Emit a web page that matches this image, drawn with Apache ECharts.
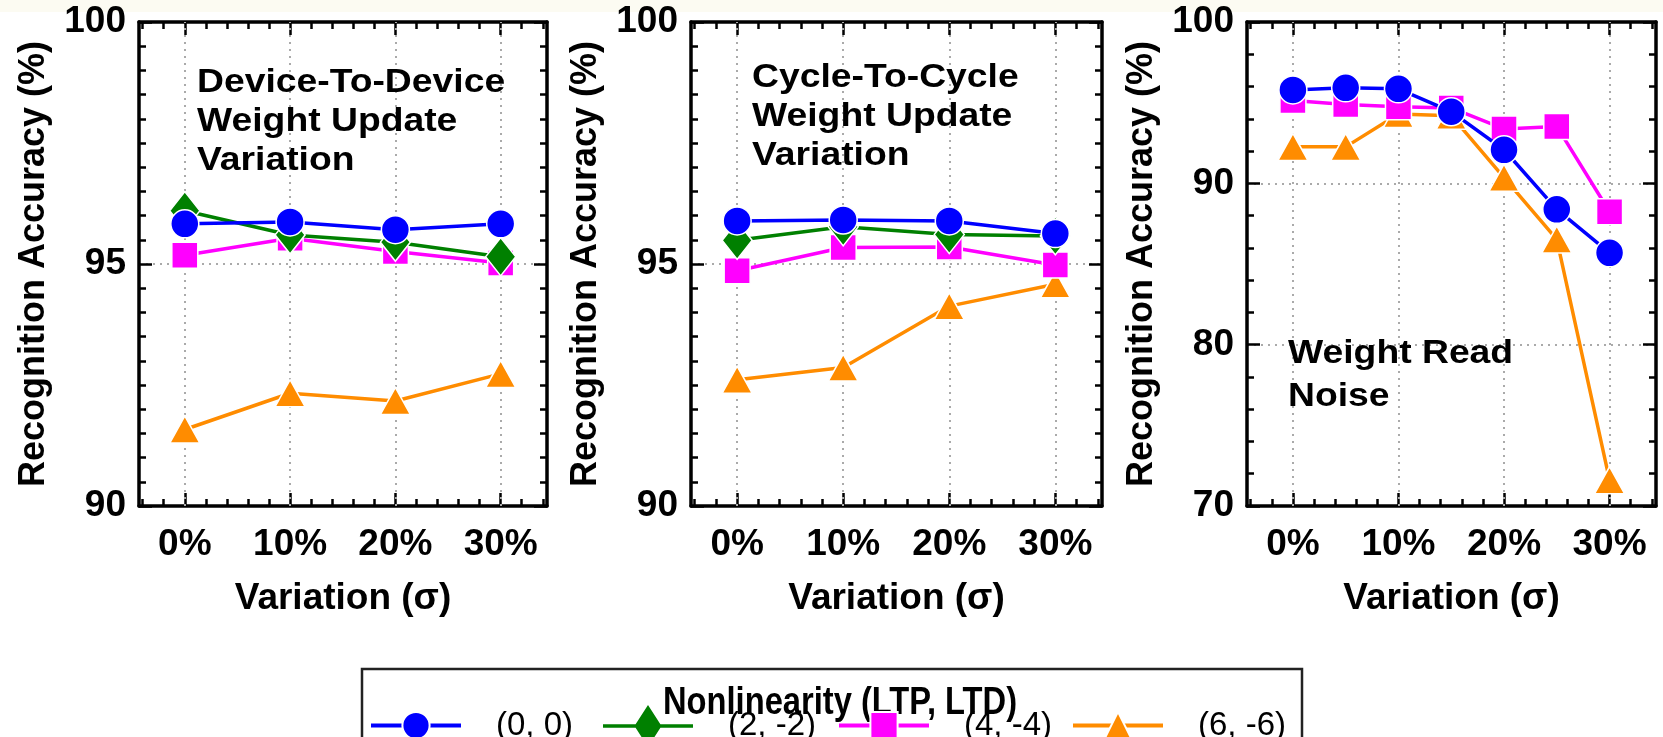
<!DOCTYPE html>
<html><head><meta charset="utf-8">
<script src="https://cdn.jsdelivr.net/npm/echarts@6/dist/echarts.min.js"></script>
<style>html,body{margin:0;padding:0;background:#fff}#c{width:1663px;height:737px}</style>
</head><body><div id="c"></div>
<script>
// ---------- data ----------
const seriesNames = ['(0, 0)', '(2, -2)', '(4, -4)', '(6, -6)'];
const d2dX = [0, 10, 20, 30];
const d2d_00 = [95.83, 95.87, 95.71, 95.83];
const d2d_22 = [96.10, 95.60, 95.45, 95.15];
const d2d_44 = [95.18, 95.53, 95.26, 95.02];
const d2d_66 = [91.58, 92.33, 92.17, 92.73];
const c2cX = [0, 10, 20, 30];
const c2c_00 = [95.89, 95.91, 95.89, 95.63];
const c2c_22 = [95.49, 95.77, 95.61, 95.58];
const c2c_44 = [94.86, 95.34, 95.35, 94.98];
const c2c_66 = [92.61, 92.86, 94.13, 94.58];
const noiseX = [0, 5, 10, 15, 20, 25, 30];
const noise_00 = [95.79, 95.92, 95.86, 94.44, 92.08, 88.39, 85.69];
const noise_44 = [95.13, 94.88, 94.75, 94.67, 93.37, 93.53, 88.24];
const noise_66 = [92.26, 92.26, 94.30, 94.19, 90.35, 86.52, 71.60];
const xMajorTicks = [0, 10, 20, 30];
const xMinorTicks = [-4, -2, 2, 4, 6, 8, 12, 14, 16, 18, 22, 24, 26, 28, 32, 34];
const panelNotes = [
  ['Device-To-Device', 'Weight Update', 'Variation'],
  ['Cycle-To-Cycle', 'Weight Update', 'Variation'],
  ['Weight Read', 'Noise']
];
const legendTitle = 'Nonlinearity (LTP, LTD)';
const xTitle = 'Variation (\u03c3)';
const yTitle = 'Recognition Accuracy (%)';

// ---------- layout / style ----------
const FONT = '"Liberation Sans", Arial, sans-serif';
const grids = [
  { left: 139, top: 22, width: 408, height: 484 },
  { left: 691, top: 22, width: 411, height: 484 },
  { left: 1247, top: 22, width: 409, height: 484 }
];
const yCfg = [
  { min: 90, max: 100, interval: 5, minor: 10 },
  { min: 90, max: 100, interval: 5, minor: 10 },
  { min: 70, max: 100, interval: 10, minor: 5 }
];
const styles = {
  '(0, 0)':  { color: '#0000ff', symbol: 'circle',   size: 28, z: 6 },
  '(2, -2)': { color: '#008000', symbol: 'diamond',  size: [30, 38], z: 5 },
  '(4, -4)': { color: '#ff00ff', symbol: 'rect',     size: 26, z: 4 },
  '(6, -6)': { color: '#ff8c00', symbol: 'triangle', size: [30, 27], z: 3 }
};
const tickLine = { color: '#000', width: 2.5 };
const labelStyle = { fontFamily: FONT, fontWeight: 'bold', fontSize: 37, color: '#000' };
const frameLine = { color: '#000', width: 3.5 };

const xAxes = [], yAxes = [];
grids.forEach((g, gi) => {
  const base = { type: 'value', gridIndex: gi, min: -4.35, max: 34.4, splitLine: { show: false } };
  xAxes.push(Object.assign({}, base, {
    position: 'bottom',
    axisLine: { show: true, onZero: false, lineStyle: frameLine },
    axisTick: { show: true, inside: true, length: 13, customValues: xMajorTicks, lineStyle: tickLine },
    axisLabel: Object.assign({ customValues: xMajorTicks, margin: 20, formatter: v => v + '%' }, labelStyle),
    name: xTitle, nameLocation: 'middle', nameGap: 74,
    nameTextStyle: { fontFamily: FONT, fontWeight: 'bold', fontSize: 37, color: '#000' }
  }));
  xAxes.push(Object.assign({}, base, {
    position: 'bottom', axisLine: { show: false, onZero: false },
    axisTick: { show: true, inside: true, length: 7, customValues: xMinorTicks, lineStyle: tickLine },
    axisLabel: { show: false }
  }));
  xAxes.push(Object.assign({}, base, {
    position: 'top',
    axisLine: { show: true, onZero: false, lineStyle: frameLine },
    axisTick: { show: true, inside: true, length: 13, customValues: xMajorTicks, lineStyle: tickLine },
    axisLabel: { show: false }
  }));
  xAxes.push(Object.assign({}, base, {
    position: 'top', axisLine: { show: false, onZero: false },
    axisTick: { show: true, inside: true, length: 7, customValues: xMinorTicks, lineStyle: tickLine },
    axisLabel: { show: false }
  }));
  const yc = yCfg[gi];
  const ybase = { type: 'value', gridIndex: gi, min: yc.min, max: yc.max, interval: yc.interval,
    axisLine: { show: true, onZero: false, lineStyle: frameLine },
    axisTick: { show: true, inside: true, length: 13, lineStyle: tickLine },
    minorTick: { show: true, splitNumber: yc.minor, length: 7, lineStyle: tickLine } };
  yAxes.push(Object.assign({}, ybase, {
    position: 'left',
    axisLabel: Object.assign({ margin: 13 }, labelStyle),
    splitLine: { show: true, lineStyle: { color: '#aaa', width: 2, type: [2, 5] } },
    name: yTitle, nameLocation: 'middle', nameGap: 87,
    nameTextStyle: { fontFamily: FONT, fontWeight: 'bold', fontSize: 36, color: '#000' }
  }));
  yAxes.push(Object.assign({}, ybase, {
    position: 'right', axisLabel: { show: false }, splitLine: { show: false }
  }));
});

function mk(name, xs, ys, gi) {
  const s = styles[name];
  return {
    type: 'line', name, xAxisIndex: gi * 4, yAxisIndex: gi * 2, z: s.z,
    data: xs.map((x, i) => [x, ys[i]]),
    symbol: s.symbol, symbolSize: s.size, showAllSymbol: true,
    lineStyle: { color: s.color, width: 3.5 },
    itemStyle: { color: s.color, borderColor: '#fff', borderWidth: 1.5 },
    emphasis: { disabled: true }, animation: false
  };
}
function gridLines(gi) {
  return {
    type: 'line', name: '_grid' + gi, xAxisIndex: gi * 4, yAxisIndex: gi * 2, data: [], z: 1,
    markLine: { silent: true, symbol: 'none', z: 1, animation: false,
      label: { show: false },
      lineStyle: { color: '#aaa', width: 2, type: [2, 5] },
      data: xMajorTicks.map(v => ({ xAxis: v })) }
  };
}

const series = [
  gridLines(0), gridLines(1), gridLines(2),
  mk('(0, 0)', d2dX, d2d_00, 0), mk('(2, -2)', d2dX, d2d_22, 0),
  mk('(4, -4)', d2dX, d2d_44, 0), mk('(6, -6)', d2dX, d2d_66, 0),
  mk('(0, 0)', c2cX, c2c_00, 1), mk('(2, -2)', c2cX, c2c_22, 1),
  mk('(4, -4)', c2cX, c2c_44, 1), mk('(6, -6)', c2cX, c2c_66, 1),
  mk('(0, 0)', noiseX, noise_00, 2), mk('(4, -4)', noiseX, noise_44, 2), mk('(6, -6)', noiseX, noise_66, 2)
];

// tall diamond legend icon (line + diamond), drawn in a 90 x 42 box
const diamondIcon = 'path://M0,19.2L32.6,19.2L45,0L57.4,19.2L90,19.2L90,22.8L57.4,22.8L45,42L32.6,22.8L0,22.8Z';
const legendLeft = 364, legendStep = 234;
const legends = seriesNames.map((n, i) => {
  const tall = n === '(2, -2)';
  const lg = {
    data: tall ? [{ name: n, icon: diamondIcon }] : [n],
    left: legendLeft + i * legendStep, top: tall ? 700 : 704, orient: 'horizontal',
    itemWidth: 90, itemHeight: tall ? 42 : 34, selectedMode: false,
    textStyle: { fontFamily: FONT, fontSize: 33, color: '#000', padding: [0, 0, 0, 30] }
  };
  if (tall) lg.itemStyle = { color: styles[n].color, borderWidth: 0 };
  else lg.lineStyle = { width: 4 };
  return lg;
});

const notePos = [
  { x: 197, y: 83 }, { x: 752, y: 78 }, { x: 1288, y: 354 }
];
const noteStep = [39, 39, 43];
const graphics = [
  { type: 'rect', shape: { x: 0, y: 0, width: 1663, height: 12 }, style: { fill: '#fcfbf2' }, z: -10, silent: true },
  { type: 'rect', shape: { x: 362, y: 669, width: 940, height: 90 }, style: { fill: 'none', stroke: '#222', lineWidth: 2.5 }, silent: true },
  { type: 'text', x: 840, y: 704, scaleX: 0.86, silent: true,
    style: { text: legendTitle, font: 'bold 38px ' + FONT, fill: '#000', textAlign: 'center', textVerticalAlign: 'middle' } }
];
panelNotes.forEach((lines, gi) => {
  lines.forEach((t, li) => {
    graphics.push({ type: 'text', x: notePos[gi].x, y: notePos[gi].y + li * noteStep[gi], scaleX: 1.13, silent: true, z: 10,
      style: { text: t, font: 'bold 33px ' + FONT, fill: '#000', textAlign: 'left', textVerticalAlign: 'middle' } });
  });
});

const chart = echarts.init(document.getElementById('c'), null, { renderer: 'canvas' });
chart.setOption({
  backgroundColor: '#fff',
  animation: false,
  grid: grids,
  xAxis: xAxes,
  yAxis: yAxes,
  legend: legends,
  series: series,
  graphic: graphics
});
</script>
</body></html>
